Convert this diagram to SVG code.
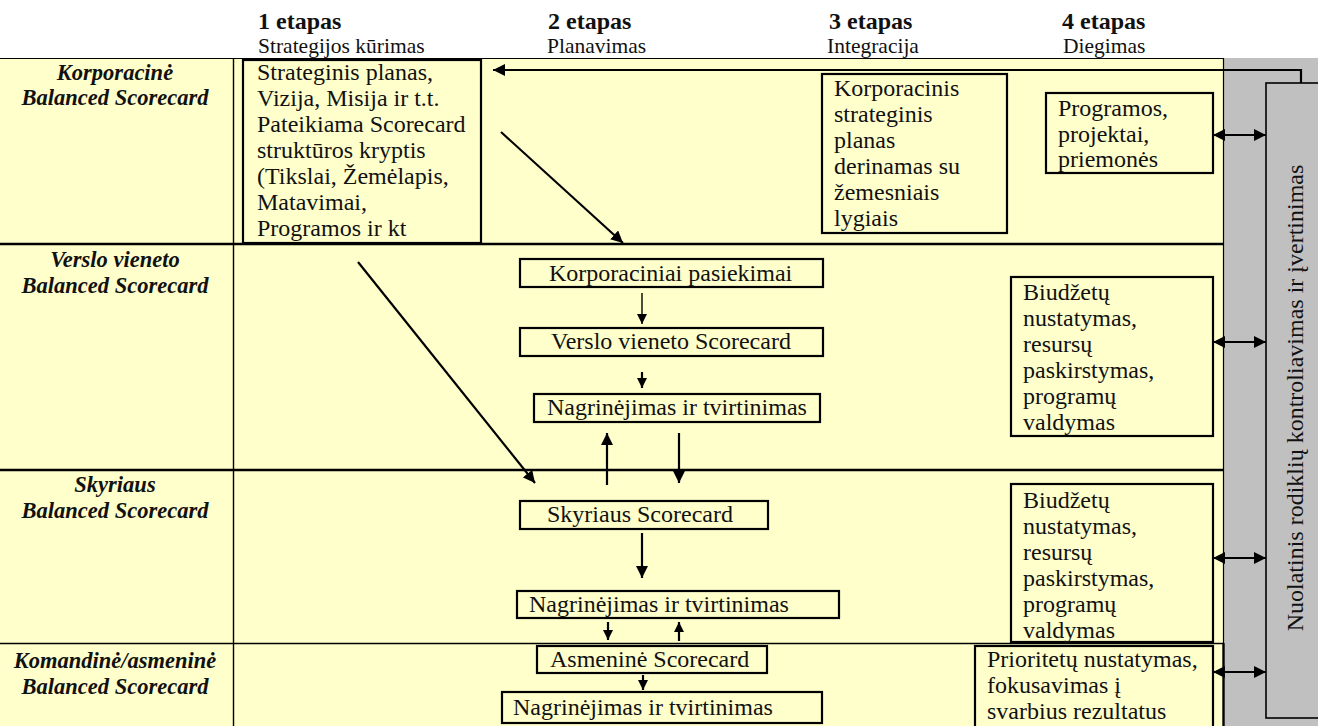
<svg xmlns="http://www.w3.org/2000/svg" width="1318" height="726" viewBox="0 0 1318 726">
  <style>
    text { font-family: "Liberation Serif", "Times New Roman", serif; fill: #111; }
    .h { font-size: 24px; font-weight: bold; }
    .s { font-size: 21.5px; }
    .lab { font-size: 22.5px; font-weight: bold; font-style: italic; text-anchor: middle; }
    .t { font-size: 24px; }
    .box { fill: #FFFFCC; stroke: #000; stroke-width: 2.2; }
    .grid { stroke: #000; fill: none; }
    .arr { stroke: #000; fill: none; stroke-width: 2.2; }
    .thin { stroke: #000; fill: none; stroke-width: 1.4; }
  </style>
  <defs>
    <marker id="head" markerUnits="userSpaceOnUse" markerWidth="14" markerHeight="12" refX="12" refY="6" orient="auto">
      <path d="M0,0 L12,6 L0,12 Z" fill="#000"/>
    </marker>
    <marker id="headS" markerUnits="userSpaceOnUse" markerWidth="12" markerHeight="10" refX="10" refY="5" orient="auto">
      <path d="M0,0 L10,5 L0,10 Z" fill="#000"/>
    </marker>
    <marker id="tail" markerUnits="userSpaceOnUse" markerWidth="14" markerHeight="12" refX="0" refY="6" orient="auto">
      <path d="M12,0 L0,6 L12,12 Z" fill="#000"/>
    </marker>
  </defs>

  <!-- page and table background -->
  <rect x="0" y="0" width="1318" height="726" fill="#fff"/>
  <rect x="0" y="58" width="1223" height="668" fill="#FFFFCC"/>
  <rect x="1223" y="58" width="95" height="668" fill="#C0C0C0"/>

  <!-- table rules -->
  <g id="table" class="grid">
    <line x1="0" y1="58.5" x2="1223" y2="58.5" stroke-width="1.2"/>
    <line x1="1223.5" y1="58" x2="1223.5" y2="643" stroke-width="1.2"/>
    <line x1="1223.5" y1="643" x2="1223.5" y2="726" stroke-width="2.4"/>
    <line x1="233.5" y1="58" x2="233.5" y2="726" stroke-width="1.4"/>
    <line x1="0" y1="244" x2="1223" y2="244" stroke-width="2.6"/>
    <line x1="0" y1="470" x2="1223" y2="470" stroke-width="2.6"/>
    <line x1="0" y1="643.5" x2="1223" y2="643.5" stroke-width="1.4"/>
  </g>

  <!-- stage headings -->
  <g id="headings">
    <text class="h" x="258" y="29">1 etapas</text>
    <text class="s" x="258" y="53">Strategijos kūrimas</text>
    <text class="h" x="548" y="29">2 etapas</text>
    <text class="s" x="547" y="53">Planavimas</text>
    <text class="h" x="829" y="29">3 etapas</text>
    <text class="s" x="827" y="53">Integracija</text>
    <text class="h" x="1062" y="29">4 etapas</text>
    <text class="s" x="1063" y="53">Diegimas</text>
  </g>

  <!-- row labels -->
  <g id="row-labels">
    <text class="lab" x="115" y="80">Korporacinė</text>
    <text class="lab" x="115" y="105">Balanced Scorecard</text>
    <text class="lab" x="115" y="267">Verslo vieneto</text>
    <text class="lab" x="115" y="293">Balanced Scorecard</text>
    <text class="lab" x="115" y="492">Skyriaus</text>
    <text class="lab" x="115" y="518">Balanced Scorecard</text>
    <text class="lab" x="115" y="668">Komandinė/asmeninė</text>
    <text class="lab" x="115" y="694">Balanced Scorecard</text>
  </g>

  <!-- monitoring column -->
  <g id="monitoring">
    <rect x="1266" y="83" width="70" height="635" fill="#C0C0C0" stroke="#000" stroke-width="1.6"/>
    <text class="t" transform="translate(1303,398) rotate(-90)" text-anchor="middle">Nuolatinis rodiklių kontroliavimas ir įvertinimas</text>
  </g>

  <!-- stage 1 -->
  <g id="strategic-plan">
    <rect class="box" x="243" y="60" width="238" height="183"/>
    <text class="t" x="257" y="80">Strateginis planas,</text>
    <text class="t" x="257" y="106">Vizija, Misija ir t.t.</text>
    <text class="t" x="257" y="132">Pateikiama Scorecard</text>
    <text class="t" x="257" y="158">struktūros kryptis</text>
    <text class="t" x="257" y="184">(Tikslai, Žemėlapis,</text>
    <text class="t" x="257" y="210">Matavimai,</text>
    <text class="t" x="257" y="236">Programos ir kt</text>
  </g>

  <!-- stage 3 -->
  <g id="integration">
    <rect class="box" x="822" y="74" width="185" height="159"/>
    <text class="t" x="834" y="96">Korporacinis</text>
    <text class="t" x="834" y="122">strateginis</text>
    <text class="t" x="834" y="148">planas</text>
    <text class="t" x="834" y="174">derinamas su</text>
    <text class="t" x="834" y="200">žemesniais</text>
    <text class="t" x="834" y="226">lygiais</text>
  </g>

  <!-- stage 4 -->
  <g id="programs">
    <rect class="box" x="1046" y="93" width="167" height="80"/>
    <text class="t" x="1058" y="116">Programos,</text>
    <text class="t" x="1058" y="142">projektai,</text>
    <text class="t" x="1058" y="167">priemonės</text>
  </g>

  <g id="budget-unit">
    <rect class="box" x="1011" y="277" width="202" height="159"/>
    <text class="t" x="1023" y="300">Biudžetų</text>
    <text class="t" x="1023" y="326">nustatymas,</text>
    <text class="t" x="1023" y="352">resursų</text>
    <text class="t" x="1023" y="378">paskirstymas,</text>
    <text class="t" x="1023" y="404">programų</text>
    <text class="t" x="1023" y="430">valdymas</text>
  </g>

  <g id="budget-dept">
    <rect class="box" x="1011" y="484" width="202" height="158"/>
    <text class="t" x="1023" y="508">Biudžetų</text>
    <text class="t" x="1023" y="534">nustatymas,</text>
    <text class="t" x="1023" y="560">resursų</text>
    <text class="t" x="1023" y="586">paskirstymas,</text>
    <text class="t" x="1023" y="612">programų</text>
    <text class="t" x="1023" y="638">valdymas</text>
  </g>

  <g id="priorities">
    <rect class="box" x="975" y="646" width="238" height="84"/>
    <text class="t" x="987" y="667">Prioritetų nustatymas,</text>
    <text class="t" x="987" y="693">fokusavimas į</text>
    <text class="t" x="987" y="719">svarbius rezultatus</text>
  </g>

  <!-- stage 2 -->
  <g id="corporate-results">
    <rect class="box" x="520" y="259" width="303" height="28"/>
    <text class="t" x="549" y="281">Korporaciniai pasiekimai</text>
  </g>
  <g id="unit-scorecard">
    <rect class="box" x="520" y="328" width="303" height="28"/>
    <text class="t" x="551" y="349">Verslo vieneto Scorecard</text>
  </g>
  <g id="unit-review">
    <rect class="box" x="534" y="394" width="286" height="28"/>
    <text class="t" x="547" y="415">Nagrinėjimas ir tvirtinimas</text>
  </g>
  <g id="dept-scorecard">
    <rect class="box" x="520" y="501" width="248" height="28"/>
    <text class="t" x="547" y="522">Skyriaus Scorecard</text>
  </g>
  <g id="dept-review">
    <rect class="box" x="517" y="591" width="322" height="27"/>
    <text class="t" x="529" y="612">Nagrinėjimas ir  tvirtinimas</text>
  </g>
  <g id="personal-scorecard">
    <rect class="box" x="537" y="646" width="230" height="27"/>
    <text class="t" x="550" y="667">Asmeninė Scorecard</text>
  </g>
  <g id="personal-review">
    <rect class="box" x="502" y="692" width="320" height="31" stroke-width="2.8"/>
    <text class="t" x="513" y="715">Nagrinėjimas ir  tvirtinimas</text>
  </g>

  <!-- connectors -->
  <g id="connectors">
    <polyline class="arr" points="1301,83 1301,70 493,70" marker-end="url(#head)"/>
    <line class="arr" x1="501" y1="132" x2="623" y2="243" stroke-width="2.6" marker-end="url(#head)"/>
    <line class="arr" x1="358" y1="262" x2="535" y2="483" stroke-width="2.6" marker-end="url(#head)"/>
    <line class="thin" x1="642" y1="293" x2="642" y2="324" marker-end="url(#headS)"/>
    <line class="arr" x1="642" y1="372" x2="642" y2="388" marker-end="url(#headS)"/>
    <line class="arr" x1="607" y1="485" x2="607" y2="433" marker-end="url(#head)"/>
    <line class="arr" x1="679" y1="433" x2="679" y2="483" marker-end="url(#head)"/>
    <line class="arr" x1="642" y1="533" x2="642" y2="578" marker-end="url(#head)"/>
    <line class="arr" x1="608" y1="622" x2="608" y2="640" marker-end="url(#headS)"/>
    <line class="arr" x1="679" y1="641" x2="679" y2="622" marker-end="url(#headS)"/>
    <line class="arr" x1="643" y1="675" x2="643" y2="690" marker-end="url(#headS)"/>
    <line class="arr" x1="1213" y1="135" x2="1266" y2="135" marker-start="url(#tail)" marker-end="url(#head)"/>
    <line class="arr" x1="1213" y1="342" x2="1266" y2="342" marker-start="url(#tail)" marker-end="url(#head)"/>
    <line class="arr" x1="1213" y1="558" x2="1266" y2="558" marker-start="url(#tail)" marker-end="url(#head)"/>
    <line class="arr" x1="1213" y1="672" x2="1266" y2="672" marker-start="url(#tail)" marker-end="url(#head)"/>
  </g>
</svg>
